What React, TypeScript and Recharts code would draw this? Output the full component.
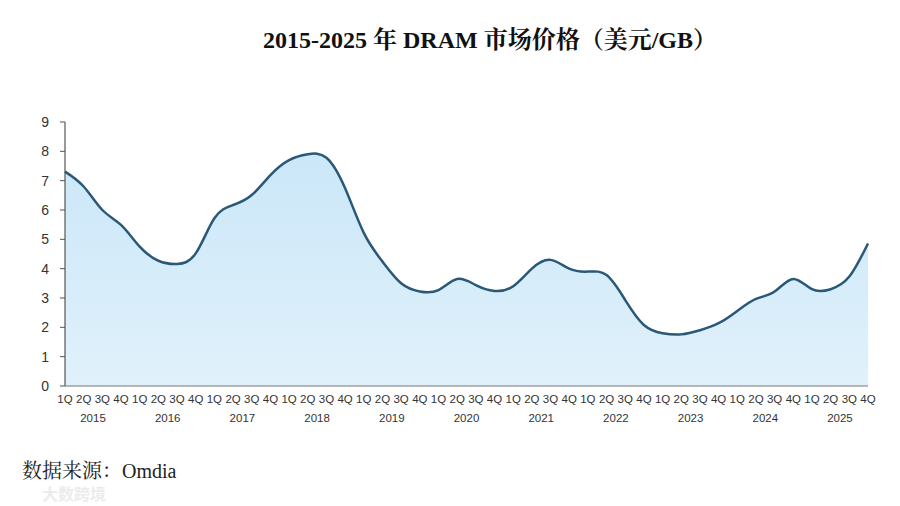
import React from "react";
import { AreaChart, Area, XAxis, YAxis } from "recharts";

const quarters: string[] = [
  "1Q", "2Q", "3Q", "4Q", "1Q", "2Q", "3Q", "4Q", "1Q", "2Q", "3Q", "4Q",
  "1Q", "2Q", "3Q", "4Q", "1Q", "2Q", "3Q", "4Q", "1Q", "2Q", "3Q", "4Q",
  "1Q", "2Q", "3Q", "4Q", "1Q", "2Q", "3Q", "4Q", "1Q", "2Q", "3Q", "4Q",
  "1Q", "2Q", "3Q", "4Q", "1Q", "2Q", "3Q", "4Q",
];

const years: string[] = [
  "2015", "2016", "2017", "2018", "2019", "2020",
  "2021", "2022", "2023", "2024", "2025",
];

// USD per GB
const prices: number[] = [
  7.31, 6.8, 6.0, 5.49, 4.75, 4.27, 4.16, 4.52,
  5.72, 6.17, 6.51, 7.19, 7.7, 7.9, 7.78, 6.74,
  5.22, 4.24, 3.5, 3.22, 3.27, 3.65, 3.44, 3.24,
  3.4, 4.0, 4.3, 4.0, 3.9, 3.78, 2.93, 2.08,
  1.8, 1.76, 1.9, 2.14, 2.56, 2.97, 3.22, 3.65,
  3.3, 3.3, 3.73, 4.86,
];

const yTicks = [0, 1, 2, 3, 4, 5, 6, 7, 8, 9];

const data = prices.map((price, i) => ({
  key: i,
  quarter: quarters[i],
  year: years[Math.floor(i / 4)],
  price,
}));

const CHART_W = 900;
const PLOT_LEFT = 65;
const PLOT_RIGHT = 32;
const STEP = (CHART_W - PLOT_LEFT - PLOT_RIGHT) / (prices.length - 1);

const labelFont = '"Liberation Sans", Arial, sans-serif';
const serifFont = '"Liberation Serif", "Noto Serif CJK SC", "Noto Sans CJK SC", serif';

function QuarterTick(props: any) {
  const { x, y, payload } = props;
  const row = data[payload.value];
  return (
    <g>
      <text
        x={x}
        y={y + 9}
        textAnchor="middle"
        fontSize={11.5}
        fontFamily={labelFont}
        fill="#333"
      >
        {row.quarter}
      </text>
      {row.quarter === "2Q" && (
        <text
          x={x + STEP / 2}
          y={y + 28}
          textAnchor="middle"
          fontSize={11.5}
          fontFamily={labelFont}
          fill="#333"
        >
          {row.year}
        </text>
      )}
    </g>
  );
}

export default function App() {
  return (
    <div
      style={{
        position: "absolute",
        left: 0,
        top: 0,
        width: 900,
        height: 506,
        background: "#fff",
        overflow: "hidden",
      }}
    >
      <div
        style={{
          position: "absolute",
          top: 25,
          left: 40,
          width: 900,
          textAlign: "center",
          fontFamily: serifFont,
          fontWeight: "bold",
          fontSize: 24,
          lineHeight: "30px",
          color: "#111",
        }}
      >
        2015-2025 年 DRAM 市场价格（美元/GB）
      </div>
      <div style={{ position: "absolute", top: 0, left: 0 }}>
        <AreaChart
          width={CHART_W}
          height={440}
          data={data}
          margin={{ top: 122, right: PLOT_RIGHT, bottom: 14, left: 0 }}
        >
          <defs>
            <linearGradient id="fillPrice" x1="0" y1="0" x2="0" y2="1">
              <stop offset="0%" stopColor="#cbe7f8" />
              <stop offset="100%" stopColor="#e0f1fb" />
            </linearGradient>
          </defs>
          <XAxis
            dataKey="key"
            type="category"
            interval={0}
            tickLine={false}
            axisLine={{ stroke: "#777", strokeWidth: 1.2 }}
            tick={<QuarterTick />}
            height={40}
          />
          <YAxis
            domain={[0, 9]}
            ticks={yTicks}
            width={PLOT_LEFT}
            axisLine={{ stroke: "#555", strokeWidth: 1.2 }}
            tickLine={{ stroke: "#555" }}
            tickSize={5}
            tick={{ fontSize: 14, fontFamily: labelFont, fill: "#333", dx: -9 }}
          />
          <Area
            type="natural"
            dataKey="price"
            stroke="#2a5878"
            strokeWidth={2.5}
            fill="url(#fillPrice)"
            fillOpacity={1}
            dot={false}
            activeDot={false}
            isAnimationActive={false}
          />
        </AreaChart>
      </div>
      <div
        style={{
          position: "absolute",
          left: 22,
          top: 460,
          fontFamily: serifFont,
          fontSize: 20,
          lineHeight: "22px",
          color: "#222",
        }}
      >
        数据来源：Omdia
      </div>
      <div
        style={{
          position: "absolute",
          left: 42,
          top: 484,
          fontFamily: '"Noto Sans CJK SC", sans-serif',
          fontSize: 16,
          lineHeight: "18px",
          fontWeight: "bold",
          color: "#ececec",
        }}
      >
        大数跨境
      </div>
    </div>
  );
}
